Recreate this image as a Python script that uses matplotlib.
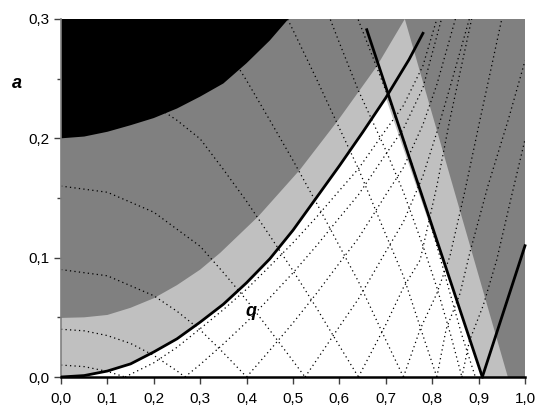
import matplotlib
matplotlib.use("Agg")
import matplotlib.pyplot as plt
from matplotlib.ticker import MultipleLocator, FuncFormatter

plt.rcParams['font.family'] = ['Liberation Sans', 'DejaVu Sans']

# shaded regions
black_x = [0.0, 0.05, 0.1, 0.15, 0.2, 0.25, 0.3, 0.35, 0.4, 0.45, 0.49]
black_a = [0.200, 0.2015, 0.2055, 0.211, 0.217, 0.225, 0.235, 0.246, 0.263, 0.282, 0.300]

light_x = [0.0, 0.05, 0.1, 0.15, 0.2, 0.25, 0.3, 0.343, 0.425, 0.515, 0.598, 0.68, 0.741]
light_a = [0.0495, 0.050, 0.052, 0.058, 0.066, 0.077, 0.090, 0.104, 0.1345, 0.1737, 0.2156, 0.260, 0.300]
light_right_x = [0.741, 0.963]
light_right_a = [0.300, 0.0]

# bold curves
q_x = [0.0, 0.05, 0.1, 0.15, 0.2, 0.25, 0.3, 0.35, 0.4, 0.45, 0.5, 0.55, 0.6, 0.65, 0.7, 0.75, 0.78]
q_a = [0.0, 0.0012, 0.005, 0.011, 0.021, 0.032, 0.046, 0.061, 0.079, 0.099, 0.123, 0.150, 0.177, 0.205, 0.234, 0.266, 0.288]
down_x = [0.659, 0.908]
down_a = [0.291, 0.0]
up_x = [0.908, 1.0]
up_a = [0.0, 0.11]

# dotted curves, family going down to the right
fam_a_x = [
    [0.0, 0.05, 0.1, 0.138],
    [0.0, 0.05, 0.1, 0.15, 0.2, 0.25, 0.267],
    [0.0, 0.1, 0.2, 0.25, 0.3, 0.35, 0.4],
    [0.0, 0.1, 0.2, 0.3, 0.35, 0.4, 0.45, 0.5, 0.526],
    [0.2, 0.25, 0.3, 0.35, 0.4, 0.45, 0.5, 0.55, 0.6, 0.641],
    [0.35, 0.4, 0.45, 0.5, 0.55, 0.6, 0.641, 0.7, 0.738],
    [0.45, 0.5, 0.55, 0.6, 0.641, 0.7, 0.738, 0.78, 0.81],
    [0.57, 0.6, 0.641, 0.7, 0.738, 0.78, 0.81, 0.84, 0.864],
    [0.63, 0.66, 0.7, 0.738, 0.78, 0.81, 0.84, 0.864, 0.893],
]
fam_a_a = [
    [0.01, 0.0087, 0.0047, 0.0],
    [0.04, 0.0387, 0.0347, 0.0281, 0.0181, 0.0051, 0.0],
    [0.09, 0.0848, 0.0681, 0.0551, 0.0395, 0.0203, 0.0],
    [0.16, 0.1548, 0.1381, 0.1095, 0.0875, 0.0644, 0.0392, 0.0135, 0.0],
    [0.2281, 0.2151, 0.1995, 0.1739, 0.1472, 0.1184, 0.0891, 0.0583, 0.0261, 0.0],
    [0.2795, 0.2484, 0.2152, 0.1815, 0.1463, 0.1097, 0.080, 0.031, 0.0],
    [0.33, 0.2907, 0.2503, 0.2085, 0.1745, 0.1193, 0.0845, 0.0349, 0.0],
    [0.31, 0.28, 0.24, 0.19, 0.155, 0.11, 0.075, 0.035, 0.0],
    [0.31, 0.28, 0.24, 0.20, 0.15, 0.11, 0.068, 0.035, 0.0],
]

# dotted curves, family going up to the right
fam_b_x = [
    [0.138, 0.2, 0.25, 0.3, 0.35, 0.4, 0.45, 0.5, 0.55, 0.6, 0.641, 0.7, 0.738, 0.78, 0.81],
    [0.267, 0.3, 0.35, 0.4, 0.45, 0.5, 0.55, 0.6, 0.641, 0.7, 0.738, 0.78, 0.82],
    [0.4, 0.45, 0.5, 0.55, 0.6, 0.641, 0.7, 0.738, 0.78, 0.81, 0.85],
    [0.526, 0.55, 0.6, 0.641, 0.7, 0.738, 0.78, 0.81, 0.84, 0.88],
    [0.641, 0.7, 0.738, 0.774, 0.81, 0.838, 0.885],
    [0.738, 0.774, 0.81, 0.838, 0.87, 0.903, 0.95],
    [0.81, 0.83, 0.86, 0.881, 0.92, 0.964, 1.0],
    [0.864, 0.88, 0.91, 0.939, 0.97, 1.0],
]
fam_b_a = [
    [0.0, 0.0119, 0.0249, 0.0405, 0.0565, 0.0736, 0.0928, 0.1125, 0.1337, 0.1563, 0.1745, 0.2071, 0.2275, 0.2608, 0.300],
    [0.0, 0.0105, 0.0277, 0.046, 0.0664, 0.0873, 0.1097, 0.1335, 0.1527, 0.1867, 0.208, 0.2423, 0.300],
    [0.0, 0.0224, 0.0453, 0.0697, 0.0955, 0.1163, 0.1527, 0.1755, 0.2115, 0.245, 0.300],
    [0.0, 0.0137, 0.0423, 0.0654, 0.1051, 0.13, 0.1684, 0.205, 0.245, 0.300],
    [0.0, 0.0439, 0.075, 0.098, 0.16, 0.2156, 0.300],
    [0.0, 0.04, 0.07, 0.101, 0.155, 0.2156, 0.300],
    [0.0, 0.04, 0.07, 0.104, 0.16, 0.2156, 0.265],
    [0.0, 0.03, 0.06, 0.098, 0.15, 0.199],
]

x_ticks = [0.0, 0.1, 0.2, 0.3, 0.4, 0.5, 0.6, 0.7, 0.8, 0.9, 1.0]
y_ticks = [0.0, 0.1, 0.2, 0.3]

DARK = '#808080'
LIGHT = '#c0c0c0'

fig = plt.figure(figsize=(5.38, 4.11), dpi=100)
ax = fig.add_axes([61 / 538, 1 - 377 / 411, 464 / 538, 358 / 411])
ax.set_xlim(0, 1)
ax.set_ylim(0, 0.3)
ax.set_facecolor(DARK)

# black region
ax.fill(black_x + [0.0], black_a + [0.3], color='black', lw=0, zorder=1)
# light gray band
lx = light_x + light_right_x[1:] + [0.0]
la = light_a + light_right_a[1:] + [0.0]
ax.fill(lx, la, color=LIGHT, lw=0, zorder=1)
# white region under q and left of the descending line
wx = [x for x, a in zip(q_x, q_a) if a <= 0.234] + [down_x[1], 0.0]
wa = [a for a in q_a if a <= 0.234] + [down_a[1], 0.0]
ax.fill(wx, wa, color='white', lw=0, zorder=1)

dot = dict(color='black', lw=0.9, linestyle=(0, (1, 2.6)), zorder=2)
for xs, ys in zip(fam_a_x, fam_a_a):
    ax.plot(xs, ys, **dot)
for xs, ys in zip(fam_b_x, fam_b_a):
    ax.plot(xs, ys, **dot)

ax.plot(q_x, q_a, color='black', lw=2, zorder=3)
ax.plot(down_x, down_a, color='black', lw=2, zorder=3)
ax.plot(up_x, up_a, color='black', lw=2, zorder=3, clip_on=False)

for side in ['top', 'right']:
    ax.spines[side].set_visible(False)
ax.spines['left'].set_color('#808080')
ax.spines['left'].set_linewidth(1.2)
ax.spines['bottom'].set_color('black')
ax.spines['bottom'].set_linewidth(1.8)
ax.spines['bottom'].set_zorder(4)

comma = FuncFormatter(lambda v, p: f'{v:.1f}'.replace('.', ','))
ax.set_xticks(x_ticks)
ax.set_yticks(y_ticks)
ax.xaxis.set_major_formatter(comma)
ax.yaxis.set_major_formatter(comma)
ax.yaxis.set_minor_locator(MultipleLocator(0.05))
ax.tick_params(axis='both', which='major', direction='out', length=5, width=1,
               color='#404040', labelsize=11, pad=3)
ax.tick_params(axis='x', pad=6)
ax.tick_params(axis='y', which='minor', direction='out', length=3, width=1, color='#404040')

fig.text(17 / 538, 1 - 83 / 411, 'a', fontsize=13, fontweight='bold', fontstyle='italic',
         ha='center', va='center')
ax.text(0.41, 0.055, 'q', fontsize=13, fontweight='bold', fontstyle='italic',
        ha='center', va='center', zorder=5)

fig.savefig('out.png', dpi=100)
